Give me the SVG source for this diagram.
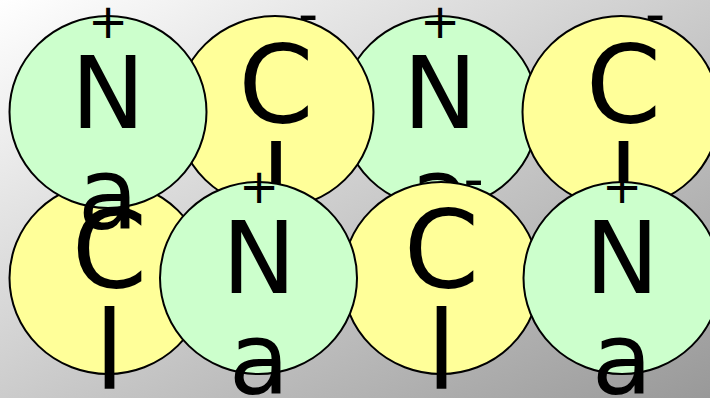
<svg xmlns="http://www.w3.org/2000/svg" width="710" height="398" viewBox="0 0 710 398">
  <defs>
    <linearGradient id="bg" x1="0" y1="0" x2="1" y2="1">
      <stop offset="0" stop-color="#ffffff"/>
      <stop offset="1" stop-color="#999999"/>
    </linearGradient>
  </defs>
  <style>
    .na { fill: #ccffcc; stroke: #000; stroke-width: 2; }
    .cl { fill: #ffff99; stroke: #000; stroke-width: 2; }
    text { font-family: "DejaVu Sans", "Liberation Sans", sans-serif; fill: #000; text-anchor: middle; }
    .nab { font-size: 99px; }
    .clb { font-size: 108px; }
    .nas { font-size: 48px; }
    .cls { font-size: 56px; }
  </style>
  <rect x="0" y="0" width="710" height="398" fill="url(#bg)"/>

  <g id="na-top-3">
    <ellipse class="na" cx="440" cy="112" rx="98.5" ry="96"/>
    <text class="nas" x="440" y="38">+</text>
    <text class="nab" x="440" y="128">N</text>
    <text class="nab" x="440" y="229">a</text>
  </g>
  <g id="cl-bottom-3">
    <ellipse class="cl" cx="441" cy="278" rx="98.5" ry="96"/>
    <text class="cls" x="473.5" y="198">-</text>
    <text class="clb" x="441.5" y="286.5">C</text>
    <text class="clb" x="441.5" y="389">l</text>
  </g>
  <g id="cl-top-2">
    <ellipse class="cl" cx="275" cy="112" rx="98.5" ry="96"/>
    <text class="cls" x="308" y="32.5">-</text>
    <text class="clb" x="276" y="121.5">C</text>
    <text class="clb" x="276" y="224">l</text>
  </g>
  <g id="cl-top-4">
    <ellipse class="cl" cx="621" cy="112" rx="98.5" ry="96"/>
    <text class="cls" x="655" y="32.5">-</text>
    <text class="clb" x="623.5" y="121.5">C</text>
    <text class="clb" x="623.5" y="224">l</text>
  </g>
  <g id="cl-bottom-1">
    <ellipse class="cl" cx="108" cy="278" rx="98.5" ry="96"/>
    <text class="cls" x="141" y="198">-</text>
    <text class="clb" x="109.5" y="286.5">C</text>
    <text class="clb" x="109.5" y="389">l</text>
  </g>
  <g id="na-top-1">
    <ellipse class="na" cx="108" cy="112" rx="98.5" ry="96"/>
    <text class="nas" x="108" y="38">+</text>
    <text class="nab" x="108" y="128">N</text>
    <text class="nab" x="108" y="229">a</text>
  </g>
  <g id="na-bottom-2">
    <ellipse class="na" cx="258.5" cy="278" rx="98.5" ry="96"/>
    <text class="nas" x="259" y="203">+</text>
    <text class="nab" x="259" y="293">N</text>
    <text class="nab" x="259" y="394">a</text>
  </g>
  <g id="na-bottom-4">
    <ellipse class="na" cx="622" cy="278" rx="98.5" ry="96"/>
    <text class="nas" x="622" y="203">+</text>
    <text class="nab" x="622" y="293">N</text>
    <text class="nab" x="622" y="394">a</text>
  </g>
</svg>
